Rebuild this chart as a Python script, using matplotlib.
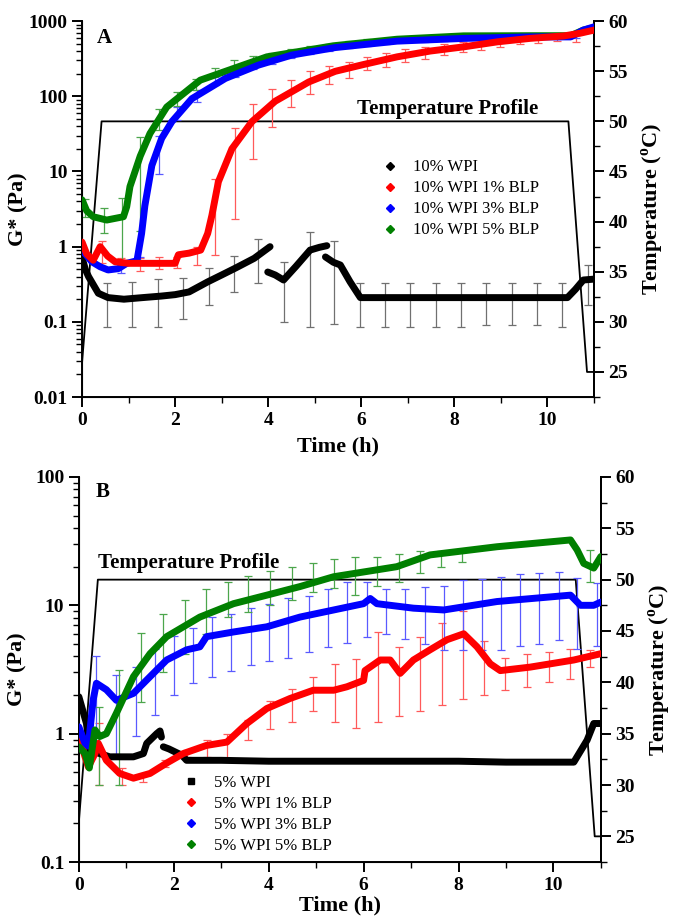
import numpy as np
import matplotlib
matplotlib.use("Agg")
import matplotlib.pyplot as plt
from matplotlib.lines import Line2D
from matplotlib.ticker import FixedLocator, MultipleLocator, FuncFormatter, LogLocator, NullFormatter

plt.rcParams['font.family'] = ['Liberation Serif', 'DejaVu Serif']
plt.rcParams['mathtext.fontset'] = 'custom'
plt.rcParams['mathtext.rm'] = 'Liberation Serif:bold'
plt.rcParams['mathtext.bf'] = 'Liberation Serif:bold'

nan = np.nan

# ---------------- Panel A (10% WPI) ----------------
a_wpi_t = [0, 0.07, 0.14, 0.35, 0.56, 0.9, 1.3, 1.7, 2.0, 2.3, 2.7, 3.0, 3.3, 3.7, 4.04,
           nan, 3.99, 4.15, 4.33, 4.6, 4.9, 5.1, 5.26,
           nan, 5.23, 5.4, 5.55, 5.76, 5.98, 6.5, 7.5, 8.5, 9.5, 10.43, 10.6, 10.77, 11.0]
a_wpi_g = [0.72, 0.5, 0.4, 0.24, 0.21, 0.2, 0.21, 0.22, 0.23, 0.25, 0.34, 0.42, 0.52, 0.7, 1.0,
           nan, 0.46, 0.42, 0.36, 0.55, 0.9, 0.98, 1.03,
           nan, 0.73, 0.62, 0.57, 0.34, 0.21, 0.21, 0.21, 0.21, 0.21, 0.21, 0.27, 0.36, 0.37]
a_blp1_t = [0, 0.1, 0.24, 0.39, 0.55, 0.71, 1.0, 1.5, 2.0, 2.07, 2.3, 2.55, 2.7, 2.79, 2.93,
            3.22, 3.65, 4.15, 4.87, 5.44, 6.05, 6.77, 7.48, 8.2, 8.92, 9.63, 10.35, 10.7, 11.0]
a_blp1_g = [1.15, 0.8, 0.66, 1.0, 0.75, 0.63, 0.6, 0.6, 0.6, 0.78, 0.82, 0.9, 1.5, 2.6, 7.3,
            20, 46, 86, 155, 215, 265, 335, 400, 455, 530, 590, 635, 690, 760]
a_blp3_t = [0, 0.21, 0.39, 0.56, 0.78, 0.96, 1.18, 1.28, 1.35, 1.5, 1.71, 1.93, 2.36, 3.08,
            3.79, 4.51, 5.44, 6.77, 8.2, 9.63, 10.5, 10.77, 11.0]
a_blp3_g = [0.9, 0.63, 0.54, 0.49, 0.51, 0.6, 0.65, 1.5, 3.5, 12, 27.5, 46, 93, 173,
            260, 354, 445, 542, 589, 617, 617, 760, 840]
a_blp5_t = [0, 0.1, 0.24, 0.53, 0.89, 0.96, 1.03, 1.25, 1.46, 1.82, 2.54, 3.97, 5.4, 6.77,
            8.2, 9.63, 10.5, 10.77, 11.0]
a_blp5_g = [4.2, 3.0, 2.5, 2.26, 2.5, 3.4, 6.3, 16, 32, 72, 164, 335, 470, 575,
            637, 640, 640, 760, 820]

a_err_wpi_t = [0.54, 1.08, 1.63, 2.17, 2.72, 3.27, 3.78, 4.34, 4.89, 5.41, 5.98, 6.52, 7.05,
               7.61, 8.15, 8.69, 9.23, 9.78, 10.32, 10.88]
a_err_wpi_lo = [0.085, 0.085, 0.085, 0.11, 0.17, 0.25, 0.33, 0.10, 0.085, 0.093, 0.085, 0.085,
                0.085, 0.085, 0.085, 0.09, 0.09, 0.09, 0.085, 0.17]
a_err_wpi_hi = [0.33, 0.34, 0.37, 0.38, 0.52, 0.75, 1.28, 0.63, 1.58, 1.2, 0.33, 0.33, 0.33,
                0.33, 0.33, 0.33, 0.33, 0.33, 0.33, 0.57]
a_err_blp_t = [0.42, 0.83, 1.25, 1.65, 2.05, 2.47, 2.86, 3.28, 3.68, 4.08, 4.49, 4.9, 5.31,
               5.73, 6.13, 6.54, 6.95, 7.36, 7.77, 8.18, 8.58, 8.99, 9.4, 9.8, 10.21, 10.62]
a_err_blp1_lo = [0.6, 0.55, 0.48, 0.5, 0.52, 0.57, 0.78, 2.3, 14.6, 39, 72, 106, 145, 173, 224,
                 245, 288, 318, 353, 383, 412, 448, 490, 505, 542, 520]
a_err_blp1_hi = [1.2, 0.7, 0.7, 0.72, 0.72, 1.0, 7.9, 38, 80, 124, 167, 216, 250, 289, 335,
                 380, 420, 455, 494, 520, 560, 590, 617, 637, 685, 707]
a_err_blp3_t = a_err_blp_t[1:]
a_err_blp3_lo = [0.45, 0.58, 9.4, 48, 85, 140, 180, 230, 270, 320, 370, 400, 440, 470, 500,
                 520, 535, 550, 560, 570, 575, 580, 585, 585, 590]
a_err_blp3_hi = [0.63, 0.72, 30, 72, 120, 180, 220, 270, 310, 370, 420, 460, 500, 530, 560,
                 580, 595, 610, 620, 630, 640, 650, 655, 660, 670]
a_err_blp5_t = [0.07, 0.47, 0.86, 1.25, 1.65, 2.04, 2.45, 2.86, 3.27, 3.68, 4.08, 4.49, 4.9,
                5.31, 5.73, 6.13]
a_err_blp5_lo = [2.5, 1.5, 0.55, 1.6, 36, 74, 120, 190, 250, 290, 330, 370, 410, 440, 480, 520]
a_err_blp5_hi = [4.3, 3.3, 4.5, 29, 67, 115, 170, 240, 300, 340, 380, 420, 460, 500, 540, 580]

a_temp_t = [0, 0.42, 10.45, 10.85, 11.0]
a_temp = [25.9, 50, 50, 25, 25]
a_labels = ['10% WPI', '10% WPI 1% BLP', '10% WPI 3% BLP', '10% WPI 5% BLP']

# ---------------- Panel B (5% WPI) ----------------
b_wpi_t = [0, 0.06, 0.16, 0.23, 0.44, 0.65, 1.15, 1.36, 1.43, 1.64, 1.71, 1.74,
           nan, 1.78, 1.9, 2.03, 2.17, 2.27, 3.0, 4.0, 5.0, 6.0, 7.0, 8.0, 9.0, 10.0,
           10.43, 10.71, 10.85, 11.0]
b_wpi_g = [1.94, 1.62, 1.2, 0.74, 0.7, 0.66, 0.66, 0.7, 0.84, 1.0, 1.05, 0.94,
           nan, 0.79, 0.76, 0.72, 0.68, 0.62, 0.62, 0.61, 0.61, 0.61, 0.61, 0.61, 0.6, 0.6,
           0.6, 0.89, 1.2, 1.2]
b_blp1_t = [0, 0.13, 0.2, 0.34, 0.41, 0.58, 0.86, 1.15, 1.5, 1.85, 2.2, 2.69, 3.12, 3.54,
            3.96, 4.45, 4.94, 5.37, 5.65, 6.0, 6.03, 6.35, 6.56, 6.77, 7.05, 7.4, 7.76, 8.11,
            8.39, 8.67, 8.88, 9.51, 10.43, 11.0]
b_blp1_g = [0.95, 0.66, 0.55, 0.7, 0.84, 0.62, 0.49, 0.45, 0.49, 0.59, 0.7, 0.81, 0.86, 1.2,
            1.57, 1.88, 2.18, 2.18, 2.32, 2.6, 3.1, 3.75, 3.75, 2.95, 3.75, 4.5, 5.4, 6.0,
            4.75, 3.5, 3.1, 3.3, 3.75, 4.2]
b_blp3_t = [0, 0.13, 0.2, 0.3, 0.37, 0.58, 0.79, 1.15, 1.5, 1.85, 2.27, 2.55, 2.69, 3.26,
            3.96, 4.66, 5.37, 6.0, 6.14, 6.28, 7.05, 7.69, 8.81, 10.36, 10.57, 10.85, 11.0]
b_blp3_g = [1.13, 0.84, 0.8, 1.82, 2.47, 2.2, 1.82, 2.06, 2.78, 3.75, 4.5, 4.75, 5.7, 6.2,
            6.8, 8.1, 9.2, 10.3, 11.3, 10.3, 9.5, 9.2, 10.7, 12.0, 10.0, 10.0, 10.6]
b_blp5_t = [0, 0.13, 0.22, 0.34, 0.44, 0.58, 0.79, 1.15, 1.5, 1.85, 2.55, 3.26, 3.96, 4.66,
            5.37, 6.7, 7.4, 8.81, 10.36, 10.5, 10.64, 10.85, 11.0]
b_blp5_g = [0.79, 0.7, 0.54, 1.07, 0.95, 1.0, 1.44, 2.78, 4.2, 5.7, 8.1, 10.3, 12, 14,
            16.7, 20, 24.7, 28.6, 32.3, 27, 21.2, 19.5, 24]

b_err_blp1_t = [0.42, 0.9, 1.36, 1.82, 2.27, 2.69, 3.12, 3.57, 4.03, 4.49, 4.94, 5.4, 5.84,
                6.3, 6.74, 7.19, 7.65, 8.09, 8.54, 8.99, 9.45, 9.9, 10.34, 10.78]
b_err_blp1_lo = [0.4, 0.4, 0.42, 0.55, 0.66, 0.66, 0.64, 0.89, 1.08, 1.24, 1.51, 1.24, 1.1,
                 1.24, 1.37, 1.51, 1.67, 1.85, 2.0, 2.19, 2.3, 2.54, 2.69, 3.3]
b_err_blp1_hi = [1.22, 0.54, 0.48, 0.62, 0.74, 0.89, 0.99, 1.28, 1.8, 2.23, 2.75, 3.5, 3.8,
                 6.2, 4.7, 5.7, 7.3, 9.0, 5.3, 3.9, 4.15, 4.35, 4.6, 4.5]
b_err_blp3_t = [0.37, 0.79, 1.2, 1.6, 2.0, 2.41, 2.81, 3.21, 3.63, 4.0, 4.41, 4.84, 5.25, 5.65,
                6.07, 6.48, 6.88, 7.29, 7.69, 8.09, 8.5, 8.9, 9.3, 9.7, 10.11, 10.5, 10.92]
b_err_blp3_lo = [0.79, 0.7, 0.96, 1.4, 2.0, 2.47, 2.78, 3.1, 3.4, 3.7, 3.9, 4.3, 4.7, 5.1,
                 5.7, 6.0, 5.5, 5.0, 4.5, 4.5, 4.5, 4.5, 4.8, 5.0, 5.4, 4.55, 4.8]
b_err_blp3_hi = [4.0, 2.87, 3.3, 4.6, 5.8, 6.6, 8.1, 8.5, 9.5, 10.2, 11.4, 11.9, 13.3, 15.3,
                 15.3, 13.5, 13.3, 13.8, 14.2, 15.7, 15.9, 16.7, 17.4, 17.8, 18.3, 16.2, 14.8]
b_err_blp5_t = [0.42, 0.85, 1.32, 1.78, 2.24, 2.67, 3.14, 3.57, 4.03, 4.49, 4.93, 5.37, 5.82,
                6.28, 6.74, 7.18, 7.64, 8.07, 10.78]
b_err_blp5_lo = [0.4, 0.4, 1.77, 3.0, 4.2, 6.0, 8.1, 8.9, 10, 11, 12.6, 13.6, 12, 14.1, 15.3,
                 17.8, 19.8, 21.9, 15.1]
b_err_blp5_hi = [1.62, 3.15, 6.1, 8.6, 11, 13.3, 15.3, 16.9, 18.5, 20, 21.2, 22.9, 23.7, 24,
                 25, 26.5, 26.7, 27.6, 26.9]

b_temp_t = [0, 0.40, 10.47, 10.87, 11.0]
b_temp = [26.4, 50, 50, 25, 25]
b_labels = ['5% WPI', '5% WPI 1% BLP', '5% WPI 3% BLP', '5% WPI 5% BLP']

colors = ['black', '#ff0000', '#0000ff', '#008000']
err_colors = ['#707070', '#ff5a5a', '#5a5aff', '#4ca64c']


def errbars(ax, t, lo, hi, color):
    lo = np.array(lo)
    hi = np.array(hi)
    mid = (lo + hi) / 2
    ax.errorbar(t, mid, yerr=(hi - lo) / 2, fmt='none', ecolor=color, elinewidth=0.9,
                capsize=3.2, capthick=0.9, zorder=1)


def style_panel(ax, ax2, ylim, yticks, temp_t, temp, label_xy, panel_letter, tp_xy, ylab_x, xpad):
    ax.set_yscale('log')
    ax.set_ylim(*ylim)
    ax.set_xlim(0, 11)
    ax.yaxis.set_major_locator(FixedLocator(yticks))
    ax.yaxis.set_major_formatter(FuncFormatter(lambda v, p: '%g' % v))
    ax.yaxis.set_minor_locator(LogLocator(base=10, subs=np.arange(2, 10)))
    ax.yaxis.set_minor_formatter(NullFormatter())
    ax.xaxis.set_major_locator(MultipleLocator(2))
    ax.xaxis.set_minor_locator(MultipleLocator(1))
    ax.spines['top'].set_visible(False)
    for s in ['left', 'bottom', 'right']:
        ax.spines[s].set_linewidth(1.4)
    ax.tick_params(which='major', length=7, width=1.4, labelsize=14)
    ax.tick_params(which='minor', length=4, width=1.0)
    for lab in ax.get_xticklabels() + ax.get_yticklabels():
        lab.set_fontweight('bold')
    ax.set_xlabel('Time (h)', fontsize=16, fontweight='bold', labelpad=xpad)
    ax.set_ylabel('G* (Pa)', fontsize=16, fontweight='bold')
    ax.yaxis.set_label_coords(ylab_x, 0.5)
    ax.text(label_xy[0], label_xy[1], panel_letter, transform=ax.transAxes, fontsize=15,
            fontweight='bold', ha='center', va='center')

    ax2.plot(temp_t, temp, color='black', lw=1.3, zorder=1)
    ax2.set_ylim(22.5, 60)
    ax2.yaxis.set_major_locator(MultipleLocator(5))
    ax2.yaxis.set_minor_locator(MultipleLocator(2.5))
    ax2.spines['top'].set_visible(False)
    ax2.spines['right'].set_linewidth(1.4)
    ax2.tick_params(which='major', length=7, width=1.4, labelsize=14)
    ax2.tick_params(which='minor', length=4, width=1.0)
    for lab in ax2.get_yticklabels():
        lab.set_fontweight('bold')
    ax2.set_ylabel('Temperature ($^{\\mathbf{o}}$C)', fontsize=16, fontweight='bold', labelpad=8)
    ax2.text(tp_xy[0], tp_xy[1], 'Temperature Profile', fontsize=15, fontweight='bold',
             ha='center', va='center')
    ax.set_zorder(ax2.get_zorder() + 1)
    ax.patch.set_visible(False)


fig = plt.figure(figsize=(6.74, 9.19), dpi=100)

# Panel A
axA = fig.add_axes([0.1217, 0.568, 0.7596, 0.409])
axA2 = axA.twinx()
errbars(axA, a_err_wpi_t, a_err_wpi_lo, a_err_wpi_hi, err_colors[0])
errbars(axA, a_err_blp_t, a_err_blp1_lo, a_err_blp1_hi, err_colors[1])
errbars(axA, a_err_blp3_t, a_err_blp3_lo, a_err_blp3_hi, err_colors[2])
errbars(axA, a_err_blp5_t, a_err_blp5_lo, a_err_blp5_hi, err_colors[3])
axA.plot(a_wpi_t, a_wpi_g, color=colors[0], lw=5, solid_capstyle='round', zorder=3)
axA.plot(a_blp5_t, a_blp5_g, color=colors[3], lw=5, solid_capstyle='round', zorder=3)
axA.plot(a_blp3_t, a_blp3_g, color=colors[2], lw=5, solid_capstyle='round', zorder=3)
axA.plot(a_blp1_t, a_blp1_g, color=colors[1], lw=5, solid_capstyle='round', zorder=3)
style_panel(axA, axA2, (0.01, 1000), [0.01, 0.1, 1, 10, 100, 1000], a_temp_t, a_temp,
            (0.043, 0.955), 'A', (7.85, 51.2), -0.105, 6)
handlesA = [Line2D([], [], ls='none', marker='D', ms=4, color=c) for c in colors]
axA.legend(handlesA, a_labels, loc='upper left', bbox_to_anchor=(0.555, 0.672), frameon=False,
           fontsize=12, handlelength=1.0, handletextpad=0.9, labelspacing=0.3)

# Panel B
axB = fig.add_axes([0.117, 0.062, 0.7745, 0.419])
axB2 = axB.twinx()
errbars(axB, b_err_blp1_t, b_err_blp1_lo, b_err_blp1_hi, err_colors[1])
errbars(axB, b_err_blp3_t, b_err_blp3_lo, b_err_blp3_hi, err_colors[2])
errbars(axB, b_err_blp5_t, b_err_blp5_lo, b_err_blp5_hi, err_colors[3])
axB.plot(b_wpi_t, b_wpi_g, color=colors[0], lw=5, solid_capstyle='round', zorder=3)
axB.plot(b_blp1_t, b_blp1_g, color=colors[1], lw=5, solid_capstyle='round', zorder=3)
axB.plot(b_blp3_t, b_blp3_g, color=colors[2], lw=5, solid_capstyle='round', zorder=3)
axB.plot(b_blp5_t, b_blp5_g, color=colors[3], lw=5, solid_capstyle='round', zorder=3)
style_panel(axB, axB2, (0.1, 100), [0.1, 1, 10, 100], b_temp_t, b_temp,
            (0.046, 0.961), 'B', (2.32, 51.6), -0.098, 1)
handlesB = [Line2D([], [], ls='none', marker='s' if i == 0 else 'D', ms=4, color=c)
            for i, c in enumerate(colors)]
axB.legend(handlesB, b_labels, loc='lower left', bbox_to_anchor=(0.17, -0.017), frameon=False,
           fontsize=12, handlelength=1.0, handletextpad=0.9, labelspacing=0.3)

fig.savefig('out.png', dpi=100)
